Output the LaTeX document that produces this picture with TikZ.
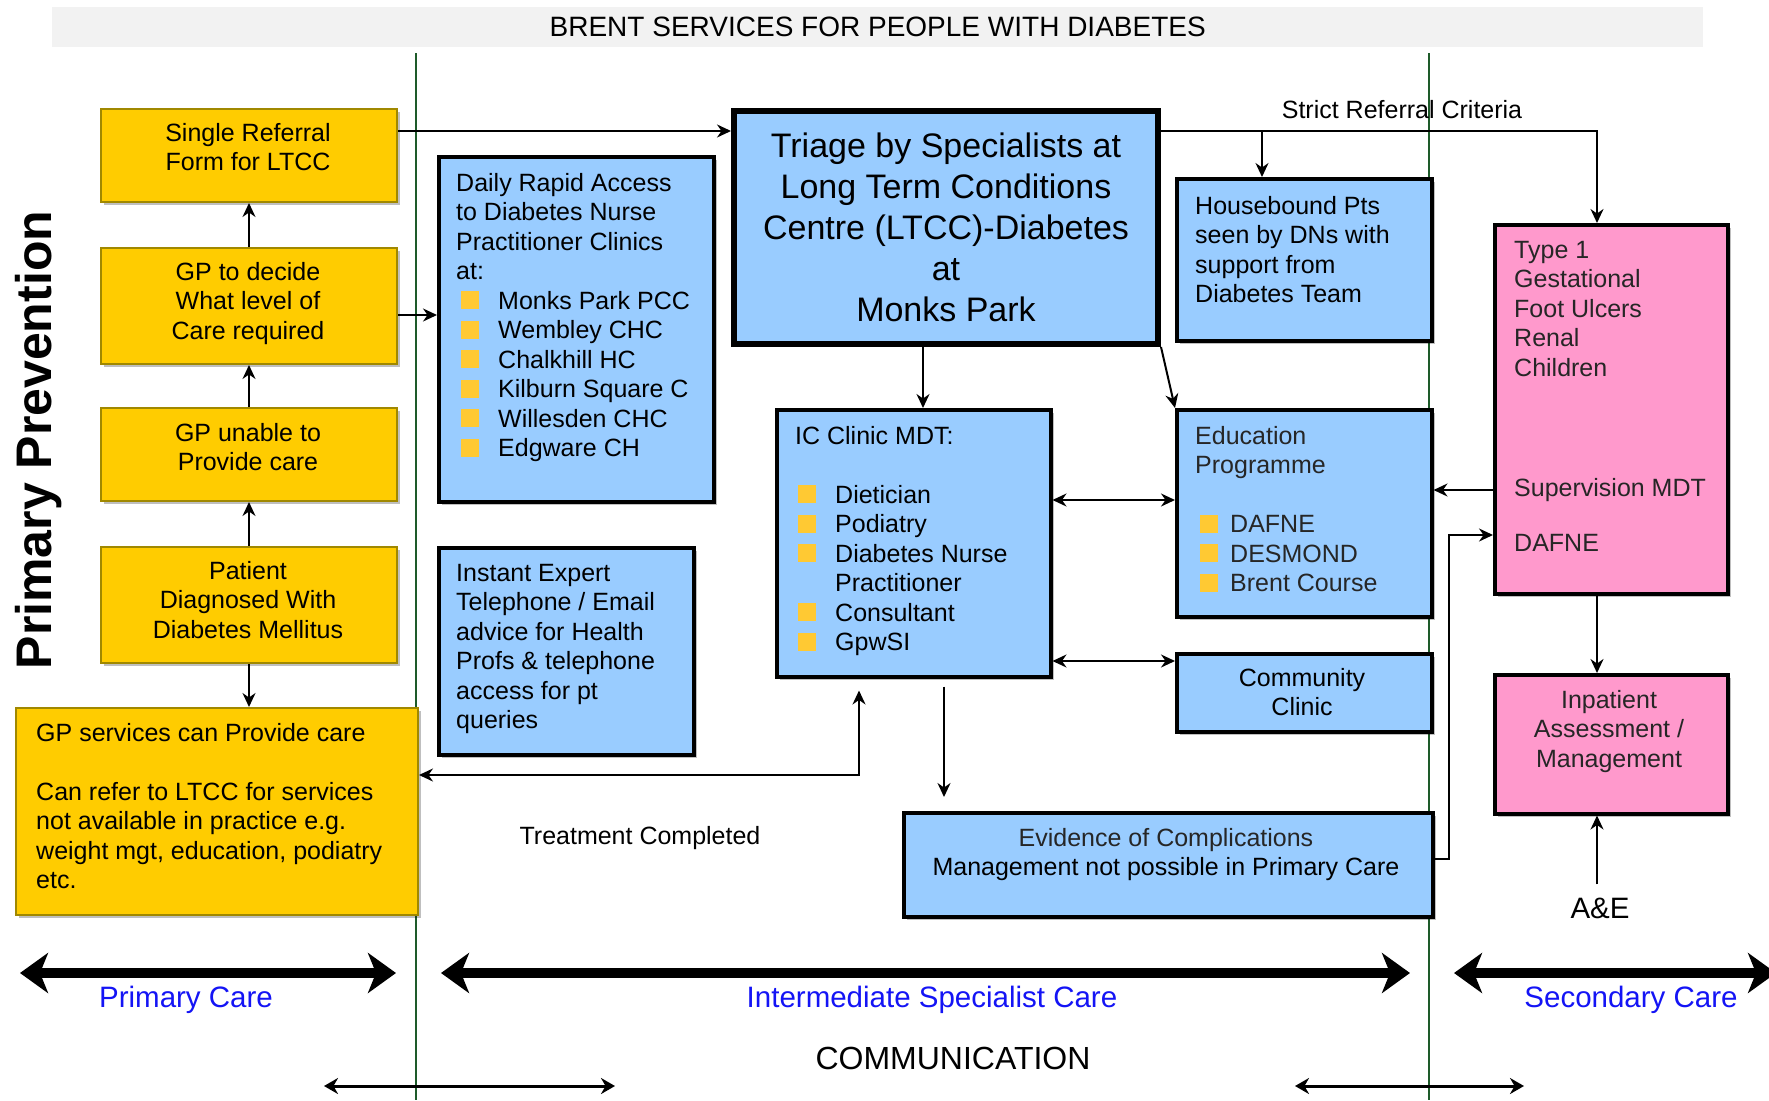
\documentclass[tikz,border=0pt]{standalone}
\usepackage{fontspec}
\setmainfont{Liberation Sans}
\usetikzlibrary{arrows.meta,calc,shadows}
\newcommand\myfs[2]{\fontsize{#1}{#2}\selectfont}
\definecolor{boxblue}{HTML}{99CCFF}
\definecolor{boxyel}{HTML}{FFCC00}
\definecolor{yelborder}{HTML}{A08800}
\definecolor{boxpink}{HTML}{FF99CC}
\definecolor{bul}{HTML}{FFC933}
\definecolor{divgreen}{HTML}{1E5B2A}
\definecolor{lblue}{HTML}{1414F5}
\definecolor{titlegray}{HTML}{F2F2F2}
\newcommand\bsq{\textcolor{bul}{\rule{18pt}{18pt}}}
\newcommand\bl[2]{\hspace*{#1}\bsq\hspace*{#2}}
\begin{document}
\begin{tikzpicture}[x=1pt,y=-1pt,
  every node/.style={inner sep=0pt},
  shad/.style={drop shadow={shadow xshift=3pt,shadow yshift=-3pt,fill=black,opacity=0.25}},
  ybox/.style={draw=yelborder, line width=2pt, fill=boxyel, anchor=north west, shad},
  bbox/.style={draw=black, line width=3.5pt, fill=boxblue, anchor=north west, align=center, font=\myfs{25}{29.5}, shad},
  pbox/.style={draw=black, line width=3.5pt, fill=boxpink, anchor=north west, shad},
  txt/.style={anchor=north west, align=left, font=\myfs{25}{29.5}},
  ctxt/.style={anchor=north, align=center, font=\myfs{25}{29.5}},
  lbl/.style={font=\myfs{25}{29.5}},
  blbl/.style={font=\myfs{29.5}{34}, text=lblue},
  conn/.style={draw, line width=2pt, -{Stealth[length=14pt,width=13pt]}},
  conntwo/.style={draw, line width=2pt, {Stealth[length=14pt,width=13pt]}-{Stealth[length=14pt,width=13pt]}},
  bigarr/.style={draw, line width=10pt, {Stealth[length=28pt,width=40pt,inset=8pt]}-{Stealth[length=28pt,width=40pt,inset=8pt]}},
  commarr/.style={draw, line width=3pt, {Stealth[length=14pt,width=16pt]}-{Stealth[length=14pt,width=16pt]}}
]
\useasboundingbox (0,0) rectangle (1769,1100);
\fill[white] (0,0) rectangle (1769,1100);

% title
\node[fill=titlegray, anchor=north west, minimum width=1651pt, minimum height=40pt, font=\myfs{28}{33}] (title) at (52,7) {BRENT SERVICES FOR PEOPLE WITH DIABETES};

% dividers
\draw[divgreen, line width=1.5pt] (416,53) -- (416,1100);
\draw[divgreen, line width=1.5pt] (1429,53) -- (1429,1100);

% Primary prevention
\node[rotate=90, font=\bfseries\myfs{50}{58}] (pp) at (39,440) {Primary Prevention};

% yellow boxes
\node[ybox, minimum width=296pt, minimum height=93pt] (sr) at (100,108) {};
\node[ctxt] (srt) at (248,123) {Single Referral\\Form for LTCC};
\node[ybox, minimum width=296pt, minimum height=116pt] (gpd) at (100,247) {};
\node[ctxt] (gpdt) at (248,262) {GP to decide\\What level of\\Care required};
\node[ybox, minimum width=296pt, minimum height=93pt] (gpu) at (100,407) {};
\node[ctxt] (gput) at (248,423) {GP unable to\\Provide care};
\node[ybox, minimum width=296pt, minimum height=116pt] (pat) at (100,546) {};
\node[ctxt] (patt) at (248,561) {Patient\\Diagnosed With\\Diabetes Mellitus};
\node[ybox, minimum width=402pt, minimum height=207pt] (gps) at (15,707) {};
\node[txt] (gpst) at (36,723) {GP services can Provide care\\[29.5pt]Can refer to LTCC for services\\not available in practice e.g.\\weight mgt, education, podiatry\\etc.};

% blue boxes
\node[bbox, minimum width=275pt, minimum height=345pt] (dra) at (437,155) {};
\node[txt] (drat) at (456,173) {Daily Rapid Access\\to Diabetes Nurse\\Practitioner Clinics\\at:\\\bl{5pt}{19pt}Monks Park PCC\\\bl{5pt}{19pt}Wembley CHC\\\bl{5pt}{19pt}Chalkhill HC\\\bl{5pt}{19pt}Kilburn Square C\\\bl{5pt}{19pt}Willesden CHC\\\bl{5pt}{19pt}Edgware CH};

\node[bbox, minimum width=255pt, minimum height=207pt] (iee) at (437,546) {};
\node[txt] (ieet) at (456,564) {Instant Expert\\Telephone / Email\\advice for Health\\Profs \& telephone\\access for pt\\queries};

\node[bbox, line width=6pt, minimum width=424pt, minimum height=233pt, font=\myfs{34}{41}] (tri) at (731,108) {Triage by Specialists at\\Long Term Conditions\\Centre (LTCC)-Diabetes\\at\\Monks Park};

\node[bbox, minimum width=274pt, minimum height=267pt] (ic) at (775,408) {};
\node[txt] (ict) at (795,426) {IC Clinic MDT:\\[29.5pt]\bl{3pt}{19pt}Dietician\\\bl{3pt}{19pt}Podiatry\\\bl{3pt}{19pt}Diabetes Nurse\\\hspace*{40pt}Practitioner\\\bl{3pt}{19pt}Consultant\\\bl{3pt}{19pt}GpwSI};

\node[bbox, minimum width=255pt, minimum height=162pt] (hb) at (1175,177) {};
\node[txt] (hbt) at (1195,196) {Housebound Pts\\seen by DNs with\\support from\\Diabetes Team};

\node[bbox, minimum width=255pt, minimum height=207pt] (edu) at (1175,408) {};
\node[txt, text=black!85] (edut) at (1195,426) {Education\\Programme\\[29.5pt]\bl{5pt}{12pt}DAFNE\\\bl{5pt}{12pt}DESMOND\\\bl{5pt}{12pt}Brent Course};

\node[bbox, minimum width=255pt, minimum height=78pt] (cc) at (1175,652) {};
\node[ctxt] (cct) at (1302,668) {Community\\Clinic};

\node[bbox, minimum width=529pt, minimum height=104pt] (ev) at (902,811) {};
\node[ctxt] (evt) at (1166,828) {{\color{black!85}Evidence of Complications}\\Management not possible in Primary Care};

% pink boxes
\node[pbox, minimum width=233pt, minimum height=369pt] (pk1) at (1493,223) {};
\node[txt, text=black!85] (pk1t) at (1514,241) {Type 1\\Gestational\\Foot Ulcers\\Renal\\Children};
\node[txt, text=black!85] (pk1u) at (1514,478) {Supervision MDT\\[26pt]DAFNE};
\node[pbox, minimum width=233pt, minimum height=139pt] (pk2) at (1493,673) {};
\node[ctxt, text=black!85] (pk2t) at (1609,690) {Inpatient\\Assessment /\\Management};

% labels
\node[lbl] (src) at (1402,110) {Strict Referral Criteria};
\node[lbl] (tc) at (640,838) {Treatment Completed};
\node[font=\myfs{29.5}{34}] (ae) at (1600,908) {A\&E};
\node[font=\myfs{32}{38}] (comm) at (953,1058) {COMMUNICATION};
\node[blbl] (lpc) at (186,1000) {Primary Care};
\node[blbl] (lis) at (932,1000) {Intermediate Specialist Care};
\node[blbl] (lsc) at (1631,1000) {Secondary Care};

% connectors left column
\draw[conn] (gpd.north) -- (sr.south);
\draw[conn] (gpu.north) -- (gpd.south);
\draw[conn] (pat.north) -- (gpu.south);
\draw[conn] (pat.south) -- (pat.south |- gps.north);
\coordinate (a6) at (396,315);
\draw[conn] (a6 -| gpd.east) -- (a6 -| dra.west);
\draw[conn] ($(sr.north east)+(0,23)$) -- ($(tri.north west)+(0,23)$);

% triage outputs
\coordinate (c1) at (1597,131);
\coordinate (c2) at (1262,131);
\draw[conn] ($(tri.north east)+(0,23)$) -- (c1) -- (c1 |- pk1.north);
\draw[conn] (c2) -- (c2 |- hb.north);
\coordinate (c3) at (923,0);
\draw[conn] (c3 |- tri.south) -- (c3 |- ic.north);
\draw[conn] (tri.south east) -- (edu.north west);

% IC links
\coordinate (a10) at ($(ic.north east)+(0,92)$);
\draw[conntwo] (a10) -- (a10 -| edu.west);
\coordinate (a11) at ($(ic.north east)+(0,253)$);
\draw[conntwo] (a11) -- (a11 -| cc.west);
\coordinate (a12) at (944,0);
\draw[conn, shorten <=8pt, shorten >=14pt] (a12 |- ic.south) -- (a12 |- ev.north);
\coordinate (a13) at (859,775);
\draw[conntwo, shorten <=12pt] (a13 |- ic.south) -- (a13) -- (a13 -| gps.east);

% evidence to pink
\coordinate (a14) at (1449,859);
\coordinate (a14b) at (1449,535);
\draw[conn] (a14 -| ev.east) -- (a14) -- (a14b) -- (a14b -| pk1.west);
\coordinate (a15) at (1493,490);
\draw[conn] (a15 -| pk1.west) -- (a15 -| edu.east);
\coordinate (a16) at (1597,0);
\draw[conn] (a16 |- pk1.south) -- (a16 |- pk2.north);
\draw[conn, shorten <=13pt] (a16 |- ae.north) -- (a16 |- pk2.south);

% bottom arrows
\coordinate (pcL) at (20,973); \coordinate (pcR) at (396,973);
\coordinate (isL) at (441,973); \coordinate (isR) at (1410,973);
\coordinate (scL) at (1454,973); \coordinate (scR) at (1776,973);
\draw[bigarr] (pcL) -- (pcR);
\draw[bigarr] (isL) -- (isR);
\draw[bigarr] (scL) -- (scR);
\coordinate (cm1) at (324,1086); \coordinate (cm2) at (615,1086);
\coordinate (cm3) at (1295,1086); \coordinate (cm4) at (1524,1086);
\draw[commarr] (cm1) -- (cm2);
\draw[commarr] (cm3) -- (cm4);
\end{tikzpicture}
\end{document}
